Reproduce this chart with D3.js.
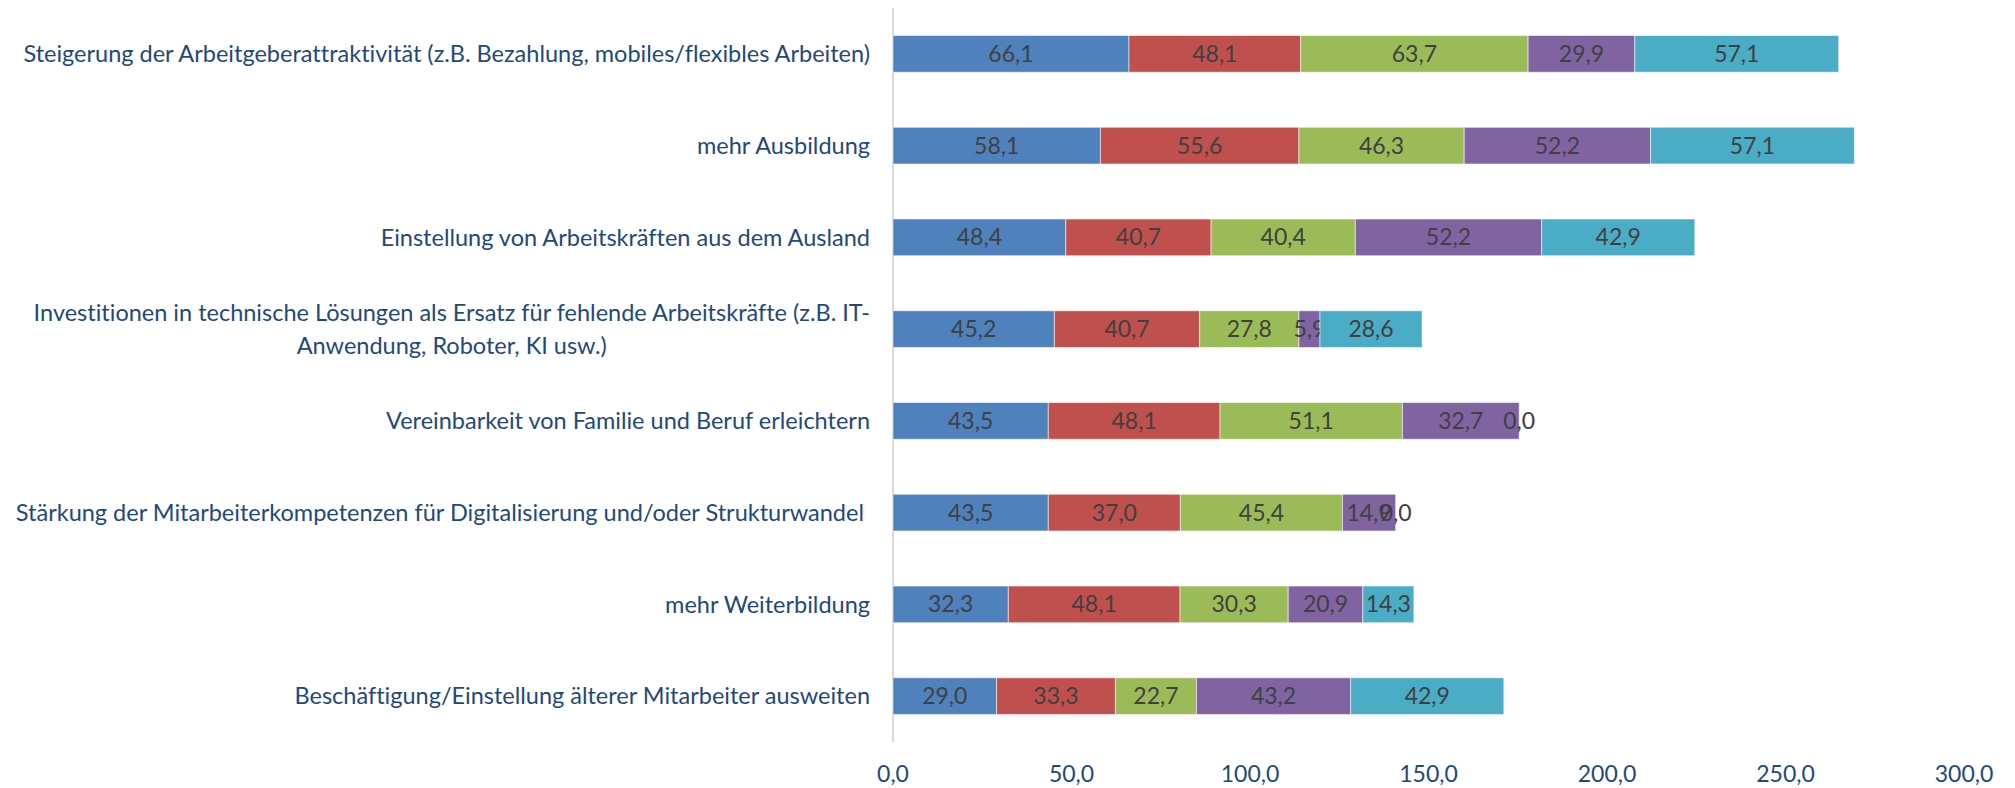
<!DOCTYPE html>
<html lang="de">
<head>
<meta charset="utf-8">
<title>Maßnahmen gegen Fachkräftemangel</title>
<script src="https://cdn.jsdelivr.net/npm/d3@7/dist/d3.min.js"></script>
<style>
  html, body { margin: 0; padding: 0; background: #fff; }
  svg { display: block; }
  text { font-family: Lato, "Open Sans", sans-serif; font-variant-ligatures: none; }
  .cat { fill: #1F497D; white-space: pre; }
  .tick-label { fill: #1F497D; }
  .value { fill: #404040; }
</style>
</head>
<body>
<div id="container"></div>
<script>
// categories, top to bottom
const categories = [
  ['Steigerung der Arbeitgeberattraktivität (z.B. Bezahlung, mobiles/flexibles Arbeiten)'],
  ['mehr Ausbildung'],
  ['Einstellung von Arbeitskräften aus dem Ausland'],
  ['Investitionen in technische Lösungen als Ersatz für fehlende Arbeitskräfte (z.B. IT-', 'Anwendung, Roboter, KI usw.)'],
  ['Vereinbarkeit von Familie und Beruf erleichtern'],
  ['Stärkung der Mitarbeiterkompetenzen für Digitalisierung und/oder Strukturwandel '],
  ['mehr Weiterbildung'],
  ['Beschäftigung/Einstellung älterer Mitarbeiter ausweiten']
];

// series values, same order as categories
const series1 = [66.1, 58.1, 48.4, 45.2, 43.5, 43.5, 32.3, 29.0];
const series2 = [48.1, 55.6, 40.7, 40.7, 48.1, 37.0, 48.1, 33.3];
const series3 = [63.7, 46.3, 40.4, 27.8, 51.1, 45.4, 30.3, 22.7];
const series4 = [29.9, 52.2, 52.2, 5.9, 32.7, 14.9, 20.9, 43.2];
const series5 = [57.1, 57.1, 42.9, 28.6, 0.0, 0.0, 14.3, 42.9];

const seriesColors = ['#4F81BD', '#C0504D', '#9BBB59', '#8064A2', '#4BACC6'];
const xTicks = [0, 50, 100, 150, 200, 250, 300];

const width = 2015;
const height = 788;
const catFontSize = 23.5;
const valueFontSize = 23;

const allSeries = [series1, series2, series3, series4, series5];
const keys = allSeries.map((s, i) => 's' + i);
const rows = categories.map((c, i) => {
  const row = { idx: i, label: c };
  allSeries.forEach((s, j) => { row[keys[j]] = s[i]; });
  return row;
});

const stacked = d3.stack().keys(keys)(rows);

const de = d3.formatLocale({ decimal: ',', thousands: '.', grouping: [3], currency: ['', ' €'] });
const fmt = de.format('.1f');

const x = d3.scaleLinear().domain([0, 300]).range([893, 1964]);
const y = d3.scaleBand()
  .domain(rows.map(d => d.idx))
  .range([8, 742])
  .paddingInner(0.6)
  .paddingOuter(0.3);

const svg = d3.select('#container')
  .append('svg')
  .attr('width', width)
  .attr('height', height);

// vertical axis line
svg.append('line')
  .attr('x1', x(0))
  .attr('x2', x(0))
  .attr('y1', y.range()[0])
  .attr('y2', y.range()[1])
  .attr('stroke', '#D9D9D9')
  .attr('stroke-width', 2);

// bars
const layer = svg.append('g')
  .selectAll('g')
  .data(stacked)
  .join('g')
  .attr('fill', (d, i) => seriesColors[i]);

layer.selectAll('rect')
  .data(d => d)
  .join('rect')
  .attr('x', d => x(d[0]))
  .attr('y', d => y(d.data.idx))
  .attr('width', d => x(d[1]) - x(d[0]))
  .attr('height', y.bandwidth())
  .attr('stroke', 'rgba(255,255,255,0.55)')
  .attr('stroke-width', 1);

// value labels
layer.selectAll('text')
  .data(d => d)
  .join('text')
  .attr('class', 'value')
  .attr('x', d => (x(d[0]) + x(d[1])) / 2)
  .attr('y', d => y(d.data.idx) + y.bandwidth() / 2)
  .attr('dy', '0.35em')
  .attr('text-anchor', 'middle')
  .attr('font-size', valueFontSize)
  .text(d => fmt(d[1] - d[0]));

// category labels: right aligned block, lines centered within block
const catG = svg.append('g');
rows.forEach(r => {
  const cy = y(r.idx) + y.bandwidth() / 2;
  const lineH = catFontSize * 1.4;
  const t = catG.append('text')
    .attr('class', 'cat')
    .attr('font-size', catFontSize)
    .attr('text-anchor', 'middle');
  r.label.forEach((line, k) => {
    t.append('tspan')
      .attr('y', cy + (k - (r.label.length - 1) / 2) * lineH)
      .attr('dy', '0.35em')
      .text(line);
  });
  // measure widest line, then place the block so its right edge sits at 870
  const spans = t.selectAll('tspan').nodes();
  const w = d3.max(spans, n => n.getComputedTextLength());
  spans.forEach(n => n.setAttribute('x', 870 - w / 2));
});

// x tick labels
svg.append('g')
  .selectAll('text')
  .data(xTicks)
  .join('text')
  .attr('class', 'tick-label')
  .attr('x', d => x(d))
  .attr('y', 774)
  .attr('dy', '0.35em')
  .attr('text-anchor', 'middle')
  .attr('font-size', valueFontSize)
  .text(d => fmt(d));
</script>
</body>
</html>
